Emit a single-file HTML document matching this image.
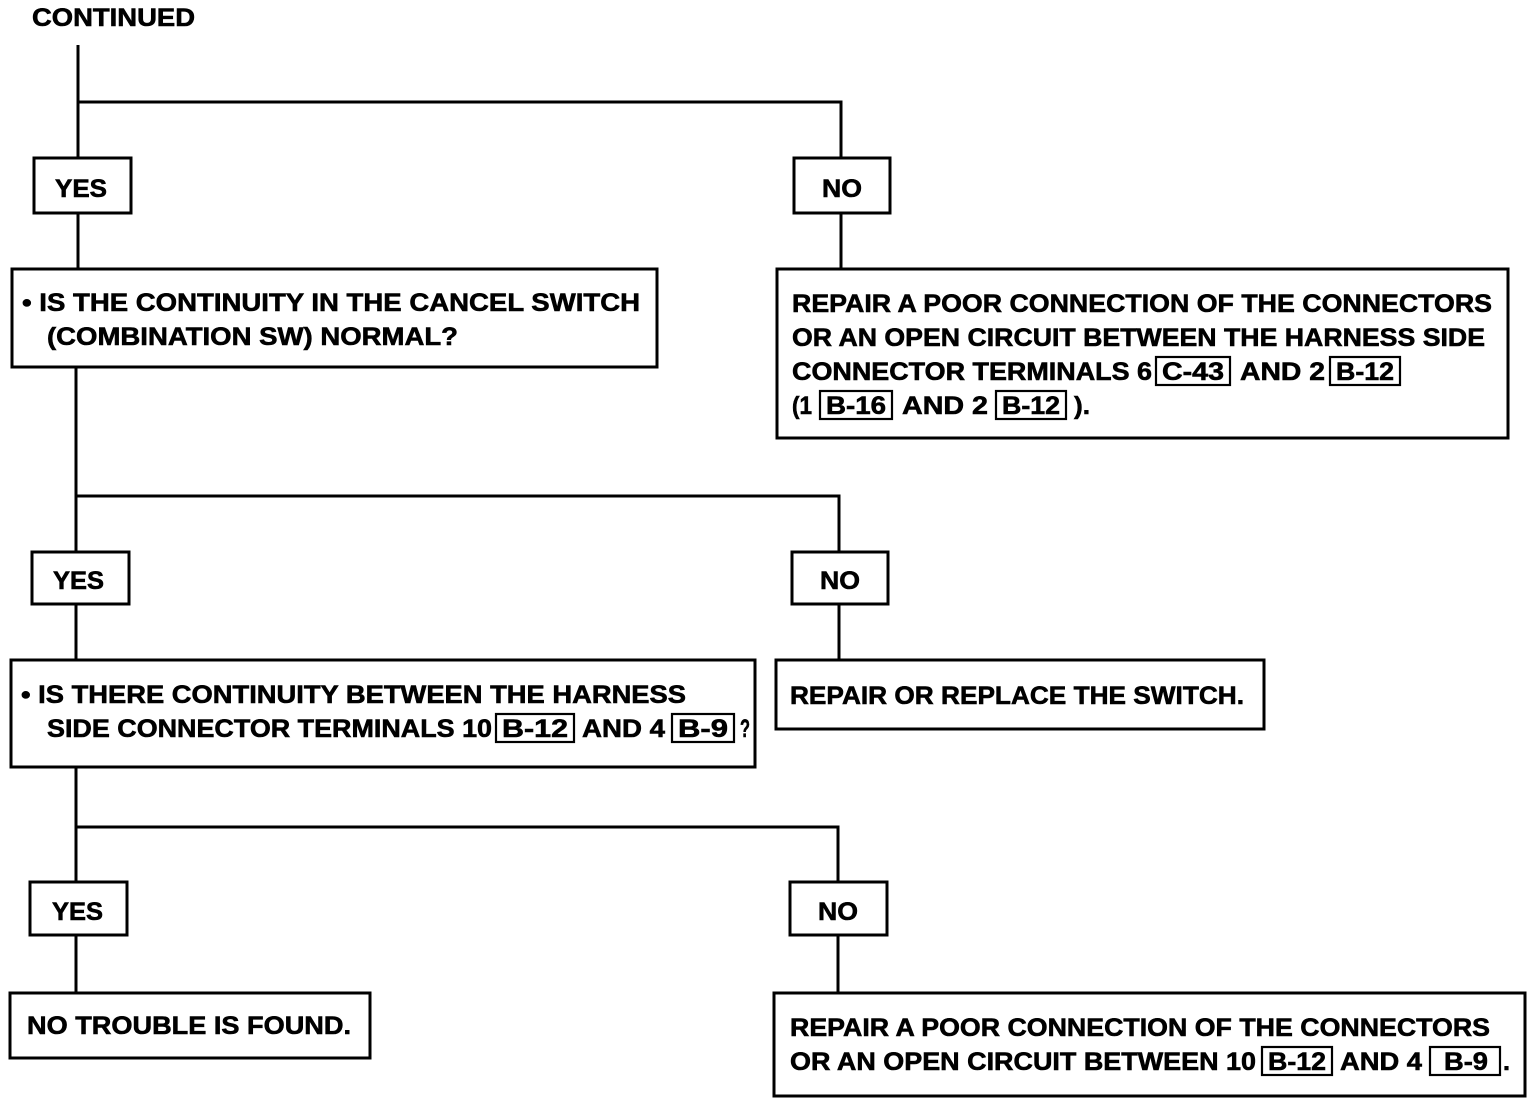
<!DOCTYPE html>
<html><head><meta charset="utf-8"><style>
html,body{margin:0;padding:0;background:#fff;}
svg{display:block;}
text{font-family:"Liberation Sans",sans-serif;font-weight:bold;font-size:25px;fill:#000;stroke:#000;stroke-width:0.6;}
</style></head><body>
<svg width="1536" height="1104" viewBox="0 0 1536 1104" xmlns="http://www.w3.org/2000/svg">
<g stroke="#000" stroke-width="3" fill="none">
<polyline points="78,45 78,158"/>
<polyline points="78,102 841,102 841,158"/>
<line x1="78" y1="213" x2="78" y2="269"/>
<line x1="841" y1="213" x2="841" y2="269"/>
<polyline points="76,367 76,552"/>
<polyline points="76,496 839,496 839,552"/>
<line x1="76" y1="604" x2="76" y2="660"/>
<line x1="839" y1="604" x2="839" y2="660"/>
<polyline points="76,767 76,882"/>
<polyline points="76,827 838,827 838,882"/>
<line x1="76" y1="935" x2="76" y2="993"/>
<line x1="838" y1="935" x2="838" y2="993"/>
<rect x="34" y="158" width="97" height="55"/>
<rect x="794" y="158" width="96" height="55"/>
<rect x="12" y="269" width="645" height="98"/>
<rect x="777" y="269" width="731" height="169"/>
<rect x="32" y="552" width="97" height="52"/>
<rect x="792" y="552" width="96" height="52"/>
<rect x="11" y="660" width="744" height="107"/>
<rect x="776" y="660" width="488" height="69"/>
<rect x="30" y="882" width="97" height="53"/>
<rect x="790" y="882" width="97" height="53"/>
<rect x="10" y="993" width="360" height="65"/>
<rect x="774" y="993" width="751" height="103"/>
<g stroke-width="2.2">
<rect x="1156" y="357" width="74" height="28"/>
<rect x="1330" y="357" width="70" height="28"/>
<rect x="820" y="391" width="72" height="28"/>
<rect x="996" y="391" width="70" height="28"/>
<rect x="496" y="714" width="78" height="28"/>
<rect x="672" y="714" width="62" height="28"/>
<rect x="1262" y="1047" width="70" height="28"/>
<rect x="1430" y="1047" width="70" height="28"/>
</g>
</g>
<g>
<text x="32" y="26" textLength="163" lengthAdjust="spacingAndGlyphs">CONTINUED</text>
<text x="55" y="197" textLength="52" lengthAdjust="spacingAndGlyphs">YES</text>
<text x="822" y="197" textLength="40" lengthAdjust="spacingAndGlyphs">NO</text>
<text x="22" y="311" textLength="618" lengthAdjust="spacingAndGlyphs">• IS THE CONTINUITY IN THE CANCEL SWITCH</text>
<text x="47" y="345" textLength="411" lengthAdjust="spacingAndGlyphs">(COMBINATION SW) NORMAL?</text>
<text x="792" y="312" textLength="700" lengthAdjust="spacingAndGlyphs">REPAIR A POOR CONNECTION OF THE CONNECTORS</text>
<text x="792" y="346" textLength="693" lengthAdjust="spacingAndGlyphs">OR AN OPEN CIRCUIT BETWEEN THE HARNESS SIDE</text>
<text x="792" y="380" textLength="360" lengthAdjust="spacingAndGlyphs">CONNECTOR TERMINALS 6</text>
<text x="1162" y="380" textLength="62" lengthAdjust="spacingAndGlyphs">C-43</text>
<text x="1240" y="380" textLength="85" lengthAdjust="spacingAndGlyphs">AND 2</text>
<text x="1336" y="380" textLength="58" lengthAdjust="spacingAndGlyphs">B-12</text>
<text x="792" y="414" textLength="20" lengthAdjust="spacingAndGlyphs">(1</text>
<text x="826" y="414" textLength="60" lengthAdjust="spacingAndGlyphs">B-16</text>
<text x="902" y="414" textLength="86" lengthAdjust="spacingAndGlyphs">AND 2</text>
<text x="1002" y="414" textLength="58" lengthAdjust="spacingAndGlyphs">B-12</text>
<text x="1074" y="414" textLength="16" lengthAdjust="spacingAndGlyphs">).</text>
<text x="53" y="589" textLength="51" lengthAdjust="spacingAndGlyphs">YES</text>
<text x="820" y="589" textLength="40" lengthAdjust="spacingAndGlyphs">NO</text>
<text x="21" y="703" textLength="665" lengthAdjust="spacingAndGlyphs">• IS THERE CONTINUITY BETWEEN THE HARNESS</text>
<text x="47" y="737" textLength="445" lengthAdjust="spacingAndGlyphs">SIDE CONNECTOR TERMINALS 10</text>
<text x="502" y="737" textLength="66" lengthAdjust="spacingAndGlyphs">B-12</text>
<text x="582" y="737" textLength="83" lengthAdjust="spacingAndGlyphs">AND 4</text>
<text x="678" y="737" textLength="50" lengthAdjust="spacingAndGlyphs">B-9</text>
<text x="740" y="737" textLength="10" lengthAdjust="spacingAndGlyphs">?</text>
<text x="790" y="704" textLength="454" lengthAdjust="spacingAndGlyphs">REPAIR OR REPLACE THE SWITCH.</text>
<text x="52" y="920" textLength="51" lengthAdjust="spacingAndGlyphs">YES</text>
<text x="818" y="920" textLength="40" lengthAdjust="spacingAndGlyphs">NO</text>
<text x="27" y="1034" textLength="324" lengthAdjust="spacingAndGlyphs">NO TROUBLE IS FOUND.</text>
<text x="790" y="1036" textLength="700" lengthAdjust="spacingAndGlyphs">REPAIR A POOR CONNECTION OF THE CONNECTORS</text>
<text x="790" y="1070" textLength="466" lengthAdjust="spacingAndGlyphs">OR AN OPEN CIRCUIT BETWEEN 10</text>
<text x="1268" y="1070" textLength="58" lengthAdjust="spacingAndGlyphs">B-12</text>
<text x="1340" y="1070" textLength="82" lengthAdjust="spacingAndGlyphs">AND 4</text>
<text x="1444" y="1070" textLength="44" lengthAdjust="spacingAndGlyphs">B-9</text>
<text x="1503" y="1070" textLength="7" lengthAdjust="spacingAndGlyphs">.</text>
</g>
</svg>
</body></html>
